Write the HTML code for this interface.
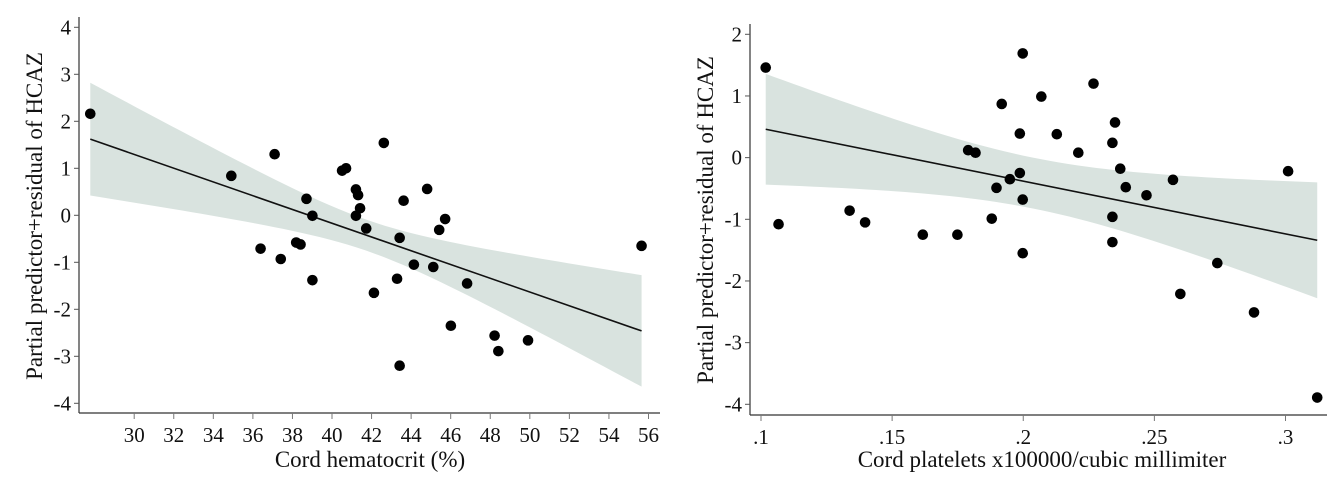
<!DOCTYPE html>
<html><head><meta charset="utf-8"><style>
html,body{margin:0;padding:0;background:#fff}
svg{display:block}
text{font-family:"Liberation Serif",serif;fill:#111}
</style></head><body>
<svg id="chart" width="1339" height="489" viewBox="0 0 1339 489" xmlns="http://www.w3.org/2000/svg"></svg>
<script>
// ---- Left panel data: cord hematocrit ----
const hctX = [27.78,34.91,37.10,36.39,37.41,38.19,38.41,38.71,39.01,39.01,40.51,40.71,41.21,41.32,41.42,41.21,41.73,42.12,42.62,43.29,43.42,43.42,43.62,44.14,44.81,45.12,45.42,45.72,46.01,46.83,48.22,48.41,49.91,55.65];
const hctY = [2.16,0.84,1.30,-0.71,-0.93,-0.58,-0.62,0.35,-0.01,-1.38,0.95,1.0,0.55,0.43,0.15,-0.01,-0.28,-1.65,1.54,-1.35,-0.48,-3.2,0.31,-1.05,0.56,-1.1,-0.31,-0.08,-2.35,-1.45,-2.56,-2.89,-2.66,-0.65];
const hctFit = [27.78,1.62,55.65,-2.46];      // x0,y0,x1,y1 of fitted line
const hctCI = [41.8,0.109,0.00677];           // mean x, a, b for half-width sqrt(a+b(x-m)^2)
const hctXTicks = [30,32,34,36,38,40,42,44,46,48,50,52,54,56];
const hctYTicks = [4,3,2,1,0,-1,-2,-3,-4];
// ---- Right panel data: cord platelets ----
const pltX = [.1018,.1067,.1338,.1397,.1617,.1749,.179,.1818,.188,.1898,.1918,.1949,.1987,.1987,.1998,.1998,.1998,.2069,.2128,.221,.2268,.234,.234,.234,.235,.237,.2391,.247,.2571,.2599,.274,.288,.301,.3121];
const pltY = [1.46,-1.08,-0.86,-1.05,-1.25,-1.25,0.12,0.08,-0.99,-0.49,0.87,-0.35,0.39,-0.25,1.69,-0.68,-1.55,0.99,0.38,0.08,1.2,0.24,-0.96,-1.37,0.57,-0.18,-0.48,-0.61,-0.36,-2.21,-1.71,-2.51,-0.22,-3.89];
const pltFit = [.1018,0.46,.3121,-1.34];
const pltCI = [0.204,0.17,61];
const pltXTicks = [.1,.15,.2,.25,.3];
const pltXLabels = [".1",".15",".2",".25",".3"];
const pltYTicks = [2,1,0,-1,-2,-3,-4];

const NS="http://www.w3.org/2000/svg";
const svg=document.getElementById('chart');
function mk(tag,attrs,parent){const e=document.createElementNS(NS,tag);for(const k in attrs)e.setAttribute(k,attrs[k]);(parent||svg).appendChild(e);return e;}

function panel(cfg){
  const g=mk('g',{});
  
  
  const sx=v=>cfg.px0+(v-cfg.vx0)*(cfg.px1-cfg.px0)/(cfg.vx1-cfg.vx0);
  const sy=v=>cfg.py0+(v-cfg.vy0)*(cfg.py1-cfg.py0)/(cfg.vy1-cfg.vy0);
  const [fx0,fy0,fx1,fy1]=cfg.fit;
  const slope=(fy1-fy0)/(fx1-fx0);
  const fit=x=>fy0+slope*(x-fx0);
  const hw=x=>Math.sqrt(cfg.ci[1]+cfg.ci[2]*(x-cfg.ci[0])**2);
  let up=[],lo=[];
  for(let i=0;i<=60;i++){const x=fx0+(fx1-fx0)*i/60;up.push(sx(x)+','+sy(fit(x)+hw(x)));lo.unshift(sx(x)+','+sy(fit(x)-hw(x)));}
  const band=mk('polygon',{points:up.concat(lo).join(' '),fill:'#d9e3df'},g);
  
  
  const line=mk('line',{x1:sx(fx0),y1:sy(fy0),x2:sx(fx1),y2:sy(fy1),stroke:'#111','stroke-width':1.6},g);
  
  
  cfg.xs.forEach((x,i)=>{
    const c=mk('circle',{cx:sx(x),cy:sy(cfg.ys[i]),r:5.3,fill:'#000'},g);
    
    
  });
  const ya=mk('line',{x1:cfg.ax,y1:cfg.atop,x2:cfg.ax,y2:cfg.ay,stroke:'#333','stroke-width':1.2},g);
  
  
  const xa=mk('line',{x1:cfg.ax,y1:cfg.ay,x2:cfg.aright,y2:cfg.ay,stroke:'#333','stroke-width':1.2},g);
  
  
  cfg.yt.forEach(v=>{
    mk('line',{x1:cfg.ax-5,y1:sy(v),x2:cfg.ax,y2:sy(v),stroke:'#555','stroke-width':1},g);
    const t=mk('text',{x:cfg.ax-8,y:sy(v)+7,'text-anchor':'end','font-size':21},g);
    t.textContent=String(v);
    
    
  });
  cfg.xt.forEach((v,i)=>{
    mk('line',{x1:sx(v),y1:cfg.ay,x2:sx(v),y2:cfg.ay+6,stroke:'#777','stroke-width':1},g);
    const t=mk('text',{x:sx(v),y:cfg.ay+29,'text-anchor':'middle','font-size':21},g);
    t.textContent=cfg.xl?cfg.xl[i]:String(v);
    
    
  });
  const xt=mk('text',{x:cfg.xtx,y:467,'text-anchor':'middle','font-size':23},g);
  xt.textContent=cfg.xtitle;
  
  
  const yt=mk('text',{x:0,y:0,'text-anchor':'middle','font-size':23,transform:`translate(${cfg.ytx},${cfg.yty}) rotate(-90)`},g);
  yt.textContent='Partial predictor+residual of HCAZ';
  
  
}
panel({name:'hematocrit-panel',xs:hctX,ys:hctY,fit:hctFit,ci:hctCI,xt:hctXTicks,yt:hctYTicks,
  px0:134.2,px1:648.5,vx0:30,vx1:56,py0:27.3,py1:403.3,vy0:4,vy1:-4,
  ax:79,atop:17,ay:413,aright:660,xtx:370,ytx:42,yty:216,xtitle:'Cord hematocrit (%)'});
panel({name:'platelets-panel',xs:pltX,ys:pltY,fit:pltFit,ci:pltCI,xt:pltXTicks,xl:pltXLabels,yt:pltYTicks,
  px0:761,px1:1285.5,vx0:.1,vx1:.3,py0:34.3,py1:404.3,vy0:2,vy1:-4,
  ax:750,atop:24,ay:415,aright:1327,xtx:1042,ytx:713,yty:220,xtitle:'Cord platelets x100000/cubic millimiter'});
</script>
</body></html>
